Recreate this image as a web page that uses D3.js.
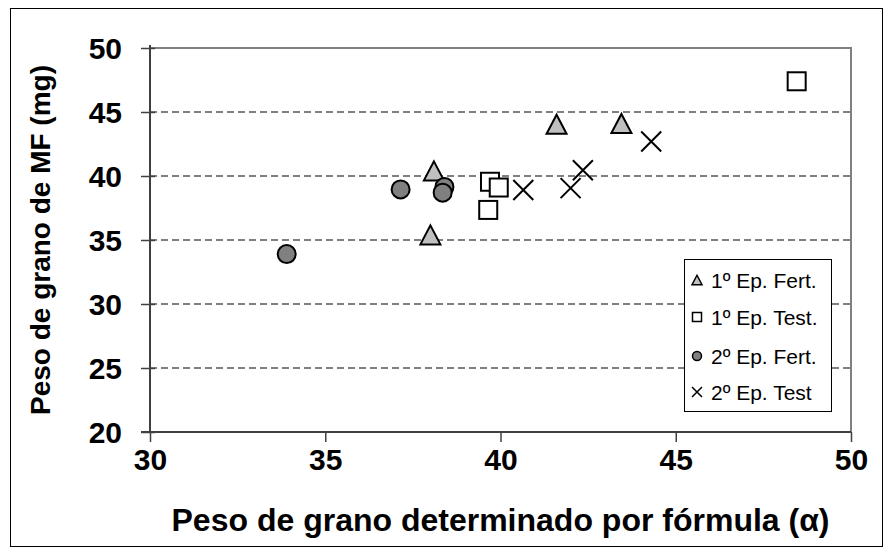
<!DOCTYPE html>
<html>
<head>
<meta charset="utf-8">
<script src="https://cdn.jsdelivr.net/npm/d3@7"></script>
<style>
  html, body { margin: 0; padding: 0; background: #fff; }
  svg { display: block; }
  text { font-family: "Liberation Sans", Arial, sans-serif; }
</style>
</head>
<body>
<svg id="chart" width="893" height="556"></svg>
<script>
// ---- Data ----
const series1Fert = [ // 1º Ep. Fert.
  {x: 38.1, y: 40.4}, {x: 38.0, y: 35.4}, {x: 41.6, y: 44.05}, {x: 43.45, y: 44.1}
];
const series1Test = [ // 1º Ep. Test.
  {x: 48.45, y: 47.4}, {x: 39.7, y: 39.55}, {x: 39.95, y: 39.1}, {x: 39.65, y: 37.35}
];
const series2Fert = [ // 2º Ep. Fert.
  {x: 33.9, y: 33.9}, {x: 37.15, y: 38.95}, {x: 38.4, y: 39.15}, {x: 38.35, y: 38.7}
];
const series2Test = [ // 2º Ep. Test
  {x: 40.65, y: 38.9}, {x: 42.0, y: 39.05}, {x: 42.35, y: 40.45}, {x: 44.3, y: 42.7}
];
const xTicks = [30, 35, 40, 45, 50];
const yTicks = [20, 25, 30, 35, 40, 45, 50];
const legendLabels = ["1º Ep. Fert.", "1º Ep. Test.", "2º Ep. Fert.", "2º Ep. Test"];
const xTitle = "Peso de grano determinado por fórmula (α)";
const yTitle = "Peso de grano de MF (mg)";

// ---- Layout ----
const svg = d3.select("#chart");
const plot = {left: 150, right: 851, top: 48, bottom: 432};
const x = d3.scaleLinear().domain([30, 50]).range([plot.left, plot.right]);
const y = d3.scaleLinear().domain([20, 50]).range([plot.bottom, plot.top]);

// outer frame
svg.append("rect").attr("x", 10.5).attr("y", 8.5).attr("width", 872).attr("height", 538)
  .attr("fill", "#fff").attr("stroke", "#000").attr("stroke-width", 1);

// gridlines (dashed)
svg.append("g").selectAll("line").data(yTicks.filter(d => d > 20 && d < 50)).join("line")
  .attr("x1", plot.left).attr("x2", plot.right)
  .attr("y1", d => y(d)).attr("y2", d => y(d))
  .attr("stroke", "#808080").attr("stroke-width", 2).attr("stroke-dasharray", "7,4");

// plot area border top & right (gray)
svg.append("path")
  .attr("d", `M${plot.left},${plot.top}H${plot.right}V${plot.bottom}`)
  .attr("fill", "none").attr("stroke", "#808080").attr("stroke-width", 2);

// axes
const yAxis = d3.axisLeft(y).tickValues(yTicks).tickSize(8).tickFormat(d3.format("d"));
const gy = svg.append("g").attr("transform", `translate(${plot.left},0)`).call(yAxis);
gy.select(".domain").remove();
gy.selectAll(".tick line").attr("x1", 5).attr("x2", -9).attr("stroke", "#404040").attr("stroke-width", 1.5);
gy.selectAll(".tick text").attr("x", -28).attr("dy", "0.36em")
  .style("font-size", "30px").style("font-weight", "bold").attr("fill", "#000");

const xAxis = d3.axisBottom(x).tickValues(xTicks).tickSize(10).tickFormat(d3.format("d"));
const gx = svg.append("g").attr("transform", `translate(0,${plot.bottom})`).call(xAxis);
gx.select(".domain").remove();
gx.selectAll(".tick line").attr("stroke", "#404040").attr("stroke-width", 1.5);
gx.selectAll(".tick text").attr("y", 38).attr("dy", 0)
  .style("font-size", "30px").style("font-weight", "bold").attr("fill", "#000");

// axis lines
svg.append("line").attr("x1", plot.left).attr("x2", plot.left).attr("y1", plot.top - 3).attr("y2", plot.bottom)
  .attr("stroke", "#404040").attr("stroke-width", 2);
svg.append("line").attr("x1", plot.left - 9).attr("x2", plot.right).attr("y1", plot.bottom).attr("y2", plot.bottom)
  .attr("stroke", "#404040").attr("stroke-width", 2);

// axis titles
svg.append("text").attr("x", (plot.left + plot.right) / 2).attr("y", 531)
  .attr("text-anchor", "middle").style("font-size", "32px").style("font-weight", "bold")
  .text(xTitle);
svg.append("text").attr("transform", `translate(50,${(plot.top + plot.bottom) / 2}) rotate(-90)`)
  .attr("text-anchor", "middle").style("font-size", "28px").style("font-weight", "bold")
  .text(yTitle);

// ---- markers ----
function triPath(s) { // triangle of width s, height ~s
  const h = s * 0.95;
  return `M0,${-h/2}L${s/2},${h/2}L${-s/2},${h/2}Z`;
}
function drawTriangles(g, data, s) {
  g.selectAll("path.tri").data(data).join("path").attr("class", "tri")
    .attr("d", triPath(s))
    .attr("transform", d => `translate(${x(d.x)},${y(d.y)})`)
    .attr("fill", "#c0c0c0").attr("stroke", "#000").attr("stroke-width", 2).attr("stroke-linejoin", "miter");
}
function drawSquares(g, data, s) {
  g.selectAll("rect.sq").data(data).join("rect").attr("class", "sq")
    .attr("x", d => x(d.x) - s/2).attr("y", d => y(d.y) - s/2)
    .attr("width", s).attr("height", s)
    .attr("fill", "#fff").attr("stroke", "#000").attr("stroke-width", 2);
}
function drawCircles(g, data, r) {
  g.selectAll("circle.ci").data(data).join("circle").attr("class", "ci")
    .attr("cx", d => x(d.x)).attr("cy", d => y(d.y)).attr("r", r)
    .attr("fill", "#808080").attr("stroke", "#000").attr("stroke-width", 2);
}
function drawCrosses(g, data, s) {
  g.selectAll("path.cr").data(data).join("path").attr("class", "cr")
    .attr("d", `M${-s/2},${-s/2}L${s/2},${s/2}M${s/2},${-s/2}L${-s/2},${s/2}`)
    .attr("transform", d => `translate(${x(d.x)},${y(d.y)})`)
    .attr("fill", "none").attr("stroke", "#000").attr("stroke-width", 2);
}
const gm = svg.append("g");
drawTriangles(gm.append("g"), series1Fert, 20);
drawSquares(gm.append("g"), series1Test, 18);
drawCircles(gm.append("g"), series2Fert, 9);
drawCrosses(gm.append("g"), series2Test, 20);

// ---- legend ----
const lg = svg.append("g").attr("transform", "translate(684,259)");
lg.append("rect").attr("x", 0.5).attr("y", 0.5).attr("width", 147).attr("height", 152)
  .attr("fill", "#fff").attr("stroke", "#000").attr("stroke-width", 1);
const rowY = [21, 58, 97, 133];
legendLabels.forEach((lab, i) => {
  const row = lg.append("g").attr("transform", `translate(13,${rowY[i]})`);
  if (i === 0) row.append("path").attr("d", triPath(10)).attr("fill", "#c0c0c0").attr("stroke", "#000").attr("stroke-width", 1.5);
  if (i === 1) row.append("rect").attr("x", -4.5).attr("y", -4.5).attr("width", 9).attr("height", 9).attr("fill", "#fff").attr("stroke", "#000").attr("stroke-width", 1.5);
  if (i === 2) row.append("circle").attr("r", 4.5).attr("fill", "#808080").attr("stroke", "#000").attr("stroke-width", 1.5);
  if (i === 3) row.append("path").attr("d", "M-5,-5L5,5M5,-5L-5,5").attr("stroke", "#000").attr("stroke-width", 1.5);
  row.append("text").attr("x", 14).attr("dy", "0.36em").style("font-size", "21px").attr("fill", "#000").text(lab);
});
</script>
</body>
</html>
